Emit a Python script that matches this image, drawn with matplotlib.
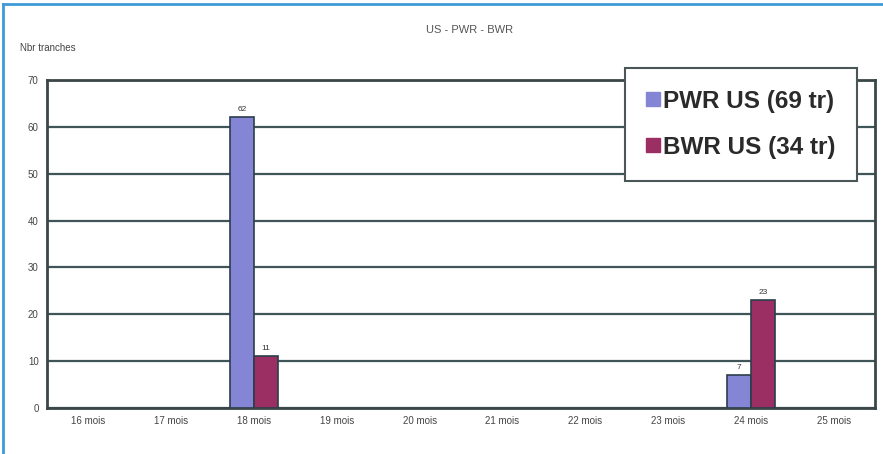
import matplotlib
matplotlib.use("Agg")
import matplotlib.pyplot as plt
from matplotlib.lines import Line2D
import numpy as np

plt.rcParams['font.family'] = ['Liberation Sans', 'DejaVu Sans']

categories = ["16 mois", "17 mois", "18 mois", "19 mois", "20 mois",
              "21 mois", "22 mois", "23 mois", "24 mois", "25 mois"]
pwr_values = [0, 0, 62, 0, 0, 0, 0, 0, 7, 0]
bwr_values = [0, 0, 11, 0, 0, 0, 0, 0, 23, 0]
series_names = ["PWR US (69 tr)", "BWR US (34 tr)"]
y_ticks = [0, 10, 20, 30, 40, 50, 60, 70]

W, H = 883, 454
fig = plt.figure(figsize=(W / 100, H / 100), dpi=100)

# axes box in pixel coordinates
left, right, top, bottom = 47, 875, 80, 408
ax = fig.add_axes([left / W, 1 - bottom / H, (right - left) / W, (bottom - top) / H])

x = np.arange(len(categories))
bw = 0.29
pwr_color = "#8585d6"
bwr_color = "#9b2f63"
edge = "#2b3e4a"

for i, (p, b) in enumerate(zip(pwr_values, bwr_values)):
    if p:
        ax.bar(x[i] - bw / 2, p, bw, color=pwr_color, edgecolor=edge, linewidth=1.2, zorder=3)
        ax.text(x[i] - bw / 2, p + 1.0, str(p), ha="center", va="bottom", fontsize=6, color="#333333")
    if b:
        ax.bar(x[i] + bw / 2, b, bw, color=bwr_color, edgecolor=edge, linewidth=1.2, zorder=3)
        ax.text(x[i] + bw / 2, b + 1.0, str(b), ha="center", va="bottom", fontsize=6, color="#333333")

ax.set_xlim(-0.5, len(categories) - 0.5)
ax.set_ylim(0, 70)
ax.set_yticks(y_ticks)
ax.set_yticklabels([str(v) for v in y_ticks], fontsize=7, color="#444444")
ax.set_xticks(x)
ax.set_xticklabels(categories, fontsize=7, color="#444444")
ax.tick_params(axis="both", length=0, pad=6)
ax.yaxis.grid(True, color="#3f5558", linewidth=1.6, zorder=0)
ax.set_axisbelow(True)
for s in ax.spines.values():
    s.set_color("#3a4648")
    s.set_linewidth(2)

# chart title and axis caption
fig.text(470 / W, 1 - 30 / H, "US - PWR - BWR", ha="center", va="center", fontsize=8, color="#555555")
fig.text(20 / W, 1 - 48 / H, "Nbr tranches", ha="left", va="center", fontsize=7, color="#444444")

# legend
handles = [Line2D([0], [0], marker="s", linestyle="none", markersize=10,
                  markerfacecolor=c, markeredgecolor=c)
           for c in (pwr_color, bwr_color)]
leg = fig.legend(handles, series_names, loc="upper left",
                 bbox_to_anchor=(625 / W, 1 - 68 / H), bbox_transform=fig.transFigure,
                 prop={"size": 17.5, "weight": "bold"}, frameon=True, fancybox=False,
                 shadow=False, framealpha=1.0,
                 handlelength=0.5, handletextpad=0.15, labelspacing=0.95,
                 borderpad=0.9, borderaxespad=0)
leg.get_frame().set_edgecolor("#4a5658")
leg.get_frame().set_linewidth(1.5)
leg.get_frame().set_facecolor("white")
for t in leg.get_texts():
    t.set_color("#2a2a2a")

# blue frame lines around the image
fig.add_artist(Line2D([3 / W, 3 / W], [0, 1 - 4 / H], color="#3d9bd6", linewidth=2, transform=fig.transFigure))
fig.add_artist(Line2D([3 / W, 1], [1 - 4 / H, 1 - 4 / H], color="#3d9bd6", linewidth=2, transform=fig.transFigure))

fig.savefig("out.png", dpi=100)
